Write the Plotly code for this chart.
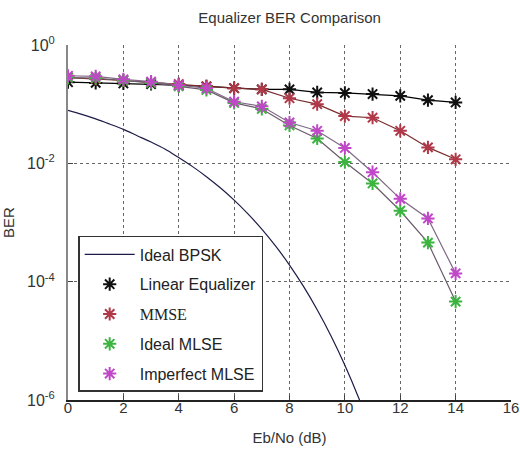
import plotly.graph_objects as go

# ---- data ----
snr_theory = [0, 0.5, 1, 1.5, 2, 2.5, 3, 3.5, 4, 4.5, 5, 5.5, 6, 6.5, 7, 7.5,
              8, 8.5, 9, 9.5, 10, 10.5, 11]
ber_bpsk = [0.0786, 0.0671, 0.0563, 0.0462, 0.0375, 0.0293, 0.0229, 0.0175,
            0.0125, 0.0088, 0.00595, 0.00386, 0.00239, 0.0014, 0.000773,
            0.000398, 0.000191, 8.4e-5, 3.36e-5, 1.21e-5, 3.87e-6, 1.08e-6, 2.6e-7]

snr_sim = [0, 1, 2, 3, 4, 5, 6, 7, 8, 9, 10, 11, 12, 13, 14]
ber_linear = [0.235, 0.229, 0.224, 0.219, 0.209, 0.2, 0.186, 0.178, 0.178,
              0.158, 0.155, 0.148, 0.138, 0.117, 0.107]
ber_mmse = [0.282, 0.269, 0.251, 0.234, 0.219, 0.2, 0.186, 0.178, 0.126,
            0.1, 0.063, 0.059, 0.0355, 0.0186, 0.0117]
ber_ideal_mlse = [0.282, 0.275, 0.251, 0.229, 0.2, 0.174, 0.105, 0.083,
                  0.0437, 0.0263, 0.0105, 0.00457, 0.00158, 0.000457, 4.6e-5]
ber_imperf_mlse = [0.302, 0.295, 0.263, 0.24, 0.209, 0.186, 0.11, 0.092,
                   0.049, 0.0355, 0.0182, 0.00708, 0.00251, 0.00117, 0.000138]

legend_names = ["Ideal BPSK", "Linear Equalizer",
                "<span style=\"font-family:'Liberation Serif','Times New Roman',serif\">MMSE</span>",
                "Ideal MLSE", "Imperfect MLSE"]

FONT = "Liberation Sans, Arial, sans-serif"

fig = go.Figure()

# fitted/connecting lines (not in legend)
sim_series = [
    (ber_linear, "#101010", "#000000"),
    (ber_mmse, "#b03848", "#7a2a2a"),
    (ber_ideal_mlse, "#3cb440", "#6a5a6a"),
    (ber_imperf_mlse, "#c048c8", "#806a86"),
]
for ys, mcol, lcol in sim_series:
    fig.add_trace(go.Scatter(x=snr_sim, y=ys, mode="lines",
                             line=dict(color=lcol, width=1.2),
                             showlegend=False, hoverinfo="skip"))

fig.add_trace(go.Scatter(x=snr_theory, y=ber_bpsk, mode="lines",
                         name=legend_names[0], legendgroup="g0",
                         line=dict(color="#1c1c48", width=1.2, shape="spline")))
for i, (ys, mcol, lcol) in enumerate(sim_series):
    fig.add_trace(go.Scatter(x=snr_sim, y=ys, mode="markers",
                             name=legend_names[i + 1], legendgroup=f"g{i+1}",
                             marker=dict(symbol="asterisk-open", size=11,
                                         color=mcol,
                                         line=dict(color=mcol, width=2))))

sup = lambda e: f"10<sup>{e}</sup>"
fig.update_layout(
    width=520, height=454,
    margin=dict(l=68, r=9, t=45, b=54),
    paper_bgcolor="white", plot_bgcolor="white",
    font=dict(family=FONT, size=15, color="#333333"),
    title=dict(text="Equalizer BER Comparison", x=0.557, xanchor="center",
               y=0.96, yanchor="middle", font=dict(size=15, color="#333333")),
    showlegend=True,
    legend=dict(x=0.023, y=0.462, xanchor="left", yanchor="top",
                bgcolor="white", bordercolor="#333333", borderwidth=1.5,
                font=dict(size=16, color="#222222"), tracegroupgap=6,
                itemwidth=50),
    xaxis=dict(range=[0, 16], tickvals=[0, 2, 4, 6, 8, 10, 12, 14, 16],
               automargin=False, ticklabeloverflow="allow",
               ticklabelstandoff=-7,
               showgrid=True, gridcolor="#666666", griddash="dot", gridwidth=1,
               showline=True, linecolor="#222222", linewidth=1.5,
               ticks="inside", ticklen=5, tickcolor="#444444",
               tickfont=dict(size=15),
               zeroline=False, mirror=False,
               title=dict(text="Eb/No (dB)", standoff=18, font=dict(size=15))),
    yaxis=dict(type="log", range=[-6, 0],
               automargin=False,
               tickvals=[1e-6, 1e-4, 1e-2, 1],
               ticktext=[sup("-6"), sup("-4"), sup("-2"), sup("0")],
               ticklabelstandoff=8,
               showgrid=True, gridcolor="#666666", griddash="dot", gridwidth=1,
               showline=True, linecolor="#888888", linewidth=2,
               ticks="inside", ticklen=5, tickcolor="#444444",
               tickfont=dict(size=16),
               zeroline=False,
               title=dict(text="BER", standoff=11, font=dict(size=15))),
)

fig.write_html("out.html",
               config={"displayModeBar": False},
               post_script="document.body.style.margin='0';")
